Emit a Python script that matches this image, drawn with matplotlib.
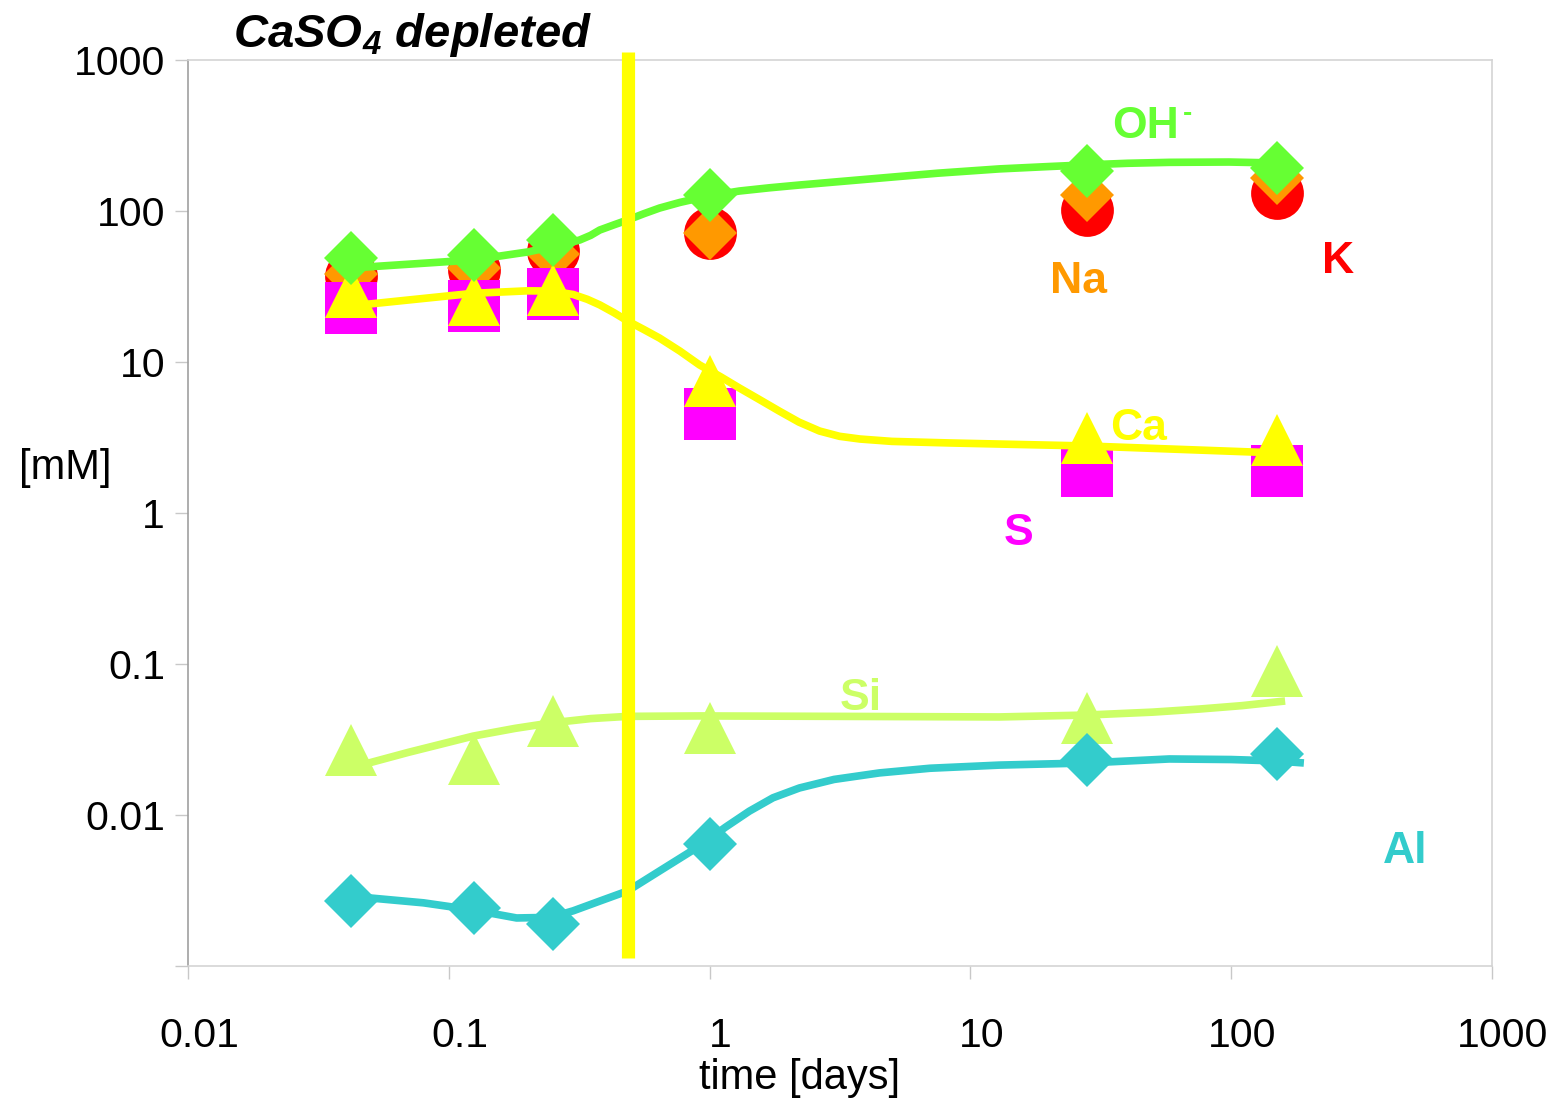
import matplotlib
matplotlib.use("Agg")
import matplotlib.pyplot as plt
from matplotlib.transforms import ScaledTranslation

plt.rcParams['font.family'] = ['Liberation Sans', 'DejaVu Sans']

# sampling times [days]
t = [0.042, 0.125, 0.25, 1.0, 28.0, 150.0]

# measured concentrations [mM]
oh = [48.8, 51.0, 64.3, 127.6, 184.0, 193.0]
k = [37.0, 40.7, 54.3, 71.5, 101.6, 131.6]
na = [38.0, 42.0, 52.0, 71.5, 127.0, 165.0]
s = [22.8, 23.5, 28.2, 4.53, 1.90, 1.90]
ca = [29.1, 25.7, 30.0, 7.48, 3.14, 3.04]
si = [0.0269, 0.0235, 0.0420, 0.0377, 0.0438, 0.0899]
al = [0.00269, 0.00242, 0.00190, 0.00643, 0.0231, 0.0254]

# smoothed trend curves
oh_ct = [0.042, 0.124, 0.20, 0.246, 0.285, 0.318, 0.35, 0.379, 0.43, 0.485, 0.56, 0.643, 0.77, 0.916,
         1.10, 1.30, 1.70, 2.21, 3.2, 4.48, 7.5, 12.9, 20, 27.8, 40, 57.9, 98.2, 150]
oh_cv = [41.9, 47.4, 53.5, 57.7, 61.0, 64.3, 69.0, 74.8, 81.0, 87.2, 96.0, 104.6, 114.0, 122,
         129.5, 135.6, 142.5, 148.6, 157, 165, 178, 190, 197, 202, 207, 210, 211, 208]
ca_ct = [0.042, 0.124, 0.20, 0.246, 0.30, 0.34, 0.379, 0.43, 0.485, 0.56, 0.643, 0.77, 0.916, 1.10, 1.30,
         1.55, 1.85, 2.20, 2.64, 3.15, 3.77, 5.0, 8.31, 27.8, 150]
ca_cv = [23.5, 28.5, 29.6, 29.5, 28.0, 26.0, 23.9, 21.2, 18.7, 16.4, 14.4, 11.8, 9.55, 8.0, 6.73,
         5.65, 4.73, 4.00, 3.49, 3.22, 3.09, 2.98, 2.91, 2.78, 2.50]
si_ct = [0.042, 0.07, 0.124, 0.18, 0.246, 0.35, 0.485, 0.916, 3.0, 12.9, 27.8, 50, 75.4, 110, 161]
si_cv = [0.0205, 0.0260, 0.0333, 0.0375, 0.0407, 0.0435, 0.0450, 0.0453, 0.0450, 0.0446, 0.0459, 0.0480, 0.0503, 0.0530, 0.0569]
al_ct = [0.042, 0.08, 0.124, 0.182, 0.246, 0.30, 0.379, 0.485, 0.643, 0.916, 1.15, 1.42, 1.75, 2.21, 3.0,
         4.48, 7.0, 12.9, 27.8, 57.9, 100, 150, 190]
al_cv = [0.0029, 0.00262, 0.00235, 0.00208, 0.0021, 0.00232, 0.00269, 0.00314, 0.00426, 0.00624, 0.0083, 0.0106, 0.0130, 0.0151, 0.0172,
         0.0190, 0.0204, 0.0214, 0.0221, 0.0235, 0.0233, 0.0228, 0.0221]

t_depleted = 0.485

xticks = [0.01, 0.1, 1, 10, 100, 1000]
xlabels = ['0.01', '0.1', '1', '10', '100', '1000']
yticks = [0.001, 0.01, 0.1, 1, 10, 100, 1000]
ylabels = ['', '0.01', '0.1', '1', '10', '100', '1000']

c_oh = '#66FF33'
c_k = '#FF0000'
c_na = '#FF9900'
c_s = '#FF00FF'
c_ca = '#FFFF00'
c_si = '#CCFF66'
c_al = '#33CCCC'

W, H = 1557, 1104
fig = plt.figure(figsize=(W / 100, H / 100), dpi=100)
ax = fig.add_axes([188 / W, 1 - 966 / H, (1492 - 188) / W, (966 - 60) / H])
ax.set_xscale('log')
ax.set_yscale('log')
ax.set_xlim(0.01, 1000)
ax.set_ylim(0.001, 1000)

lw = 5.5
# markers (bottom to top)
ax.plot(t, k, 'o', color=c_k, ms=38, mew=0, zorder=2)
ax.plot(t, na, 'D', color=c_na, ms=27, mew=0, zorder=3)
ax.plot(t, s, 's', color=c_s, ms=38, mew=0, zorder=4)
ax.plot(ca_ct, ca_cv, '-', color=c_ca, lw=lw, zorder=5)
ax.plot(t, ca, '^', color=c_ca, ms=38, mew=0, zorder=5)
ax.plot(si_ct, si_cv, '-', color=c_si, lw=lw, solid_capstyle='butt', zorder=5)
ax.plot(t, si, '^', color=c_si, ms=38, mew=0, zorder=5)
ax.plot(al_ct, al_cv, '-', color=c_al, lw=lw, solid_capstyle='butt', zorder=6)
ax.plot(t, al, 'D', color=c_al, ms=27, mew=0, zorder=6)
ax.plot(oh_ct, oh_cv, '-', color=c_oh, lw=lw, zorder=7)
ax.plot(t, oh, 'D', color=c_oh, ms=27, mew=0, zorder=7)

ax.axvline(t_depleted, ymin=0.009, ymax=1.009, color=c_ca, lw=9.5, solid_capstyle='butt',
           clip_on=False, zorder=8)

ax.minorticks_off()
ax.set_xticks(xticks)
ax.set_xticklabels(xlabels)
ax.set_yticks(yticks)
ax.set_yticklabels(ylabels)
ax.tick_params(axis='both', which='major', direction='out', length=9.5, width=1,
               color='#c8c8c8', labelsize=29.5)
ax.tick_params(axis='x', pad=27)
ax.tick_params(axis='y', pad=7)
for lab in ax.get_xticklabels():
    lab.set_transform(lab.get_transform() + ScaledTranslation(0.11, 0, fig.dpi_scale_trans))

for side in ['top', 'right', 'bottom']:
    ax.spines[side].set_color('#d4d4d4')
ax.spines['left'].set_color('#a0a0a0')
for sp in ax.spines.values():
    sp.set_linewidth(1.2)

fig.text(800 / W, 1 - 1078 / H, 'time [days]', fontsize=30, ha='center', va='center')
fig.text(65 / W, 1 - 468 / H, '[mM]', fontsize=30, ha='center', va='center')

fig.text(412 / W, 1 - 47 / H, r'CaSO$_\mathdefault{4}$ depleted', fontsize=34,
         fontweight='bold', fontstyle='italic', ha='center', va='baseline')

lab_kw = dict(fontsize=32, fontweight='bold', ha='left', va='baseline')
fig.text(1112 / W, 1 - 138 / H, 'OH', color=c_oh, **lab_kw)
fig.text(1183 / W, 1 - 121 / H, '-', color=c_oh, fontsize=20, fontweight='bold',
         ha='left', va='baseline')
fig.text(1050 / W, 1 - 293 / H, 'Na', color=c_na, **lab_kw)
fig.text(1322 / W, 1 - 273 / H, 'K', color=c_k, **lab_kw)
fig.text(1110 / W, 1 - 440 / H, 'Ca', color=c_ca, **lab_kw)
fig.text(1004 / W, 1 - 545 / H, 'S', color=c_s, **lab_kw)
fig.text(840 / W, 1 - 710 / H, 'Si', color=c_si, **lab_kw)
fig.text(1383 / W, 1 - 863 / H, 'Al', color=c_al, **lab_kw)

fig.savefig('out.png', dpi=100)
